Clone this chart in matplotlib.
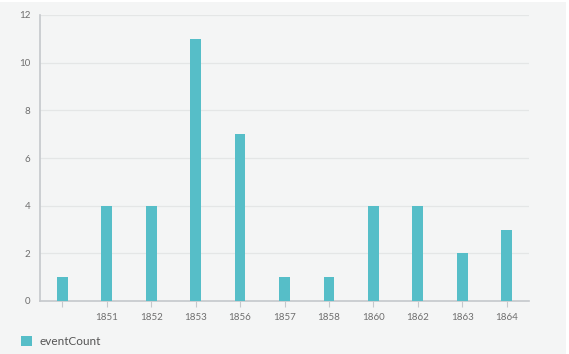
import matplotlib.pyplot as plt
from matplotlib.patches import Rectangle
import numpy as np

years = ["", "1851", "1852", "1853", "1856", "1857", "1858", "1860", "1862", "1863", "1864"]
event_count = [1, 4, 4, 11, 7, 1, 1, 4, 4, 2, 3]

BAR = "#56bec8"
TXT = "#6e6e6e"
BG = "#f4f5f5"

plt.rcParams['font.family'] = ['Lato', 'DejaVu Sans']

fig = plt.figure(figsize=(5.69, 3.54), dpi=100, facecolor="white")
# grey canvas leaves a thin white edge at top and right, like the reference
fig.patches.append(Rectangle((0, 0), 566 / 569, 352 / 354, transform=fig.transFigure,
                             facecolor=BG, edgecolor="none", zorder=-5))
ax = fig.add_axes([40 / 569, 1 - 301 / 354, 489 / 569, 286 / 354])
ax.set_facecolor(BG)

x = np.arange(len(years))
ax.bar(x, event_count, width=0.245, color=BAR, zorder=3, label="eventCount")

ax.set_xlim(-0.5, len(years) - 0.5)
ax.set_ylim(0, 12)
ax.set_yticks(range(0, 13, 2))
ax.set_xticks(x)
ax.set_xticklabels(years)
ax.grid(axis="y", color="#e4e6e6", linewidth=0.9, zorder=0)

for s in ["top", "right"]:
    ax.spines[s].set_visible(False)
ax.spines["left"].set_color("#c5c8cc")
ax.spines["bottom"].set_color("#c5c8cc")
ax.spines["left"].set_linewidth(1.2)
ax.spines["bottom"].set_linewidth(1.2)

ax.tick_params(axis="y", length=0, pad=7, labelsize=7, labelcolor=TXT)
ax.tick_params(axis="x", length=4, width=0.8, color="#c5c8cc", pad=5, labelsize=7, labelcolor=TXT)

fig.legend(loc="lower left", bbox_to_anchor=(21 / 569, 7 / 354), frameon=False, fontsize=8.5,
           borderpad=0, borderaxespad=0, handlelength=0.95, handleheight=0.95,
           handletextpad=0.6, labelcolor="#555555")

fig.savefig("out.png", dpi=100, facecolor=fig.get_facecolor())
